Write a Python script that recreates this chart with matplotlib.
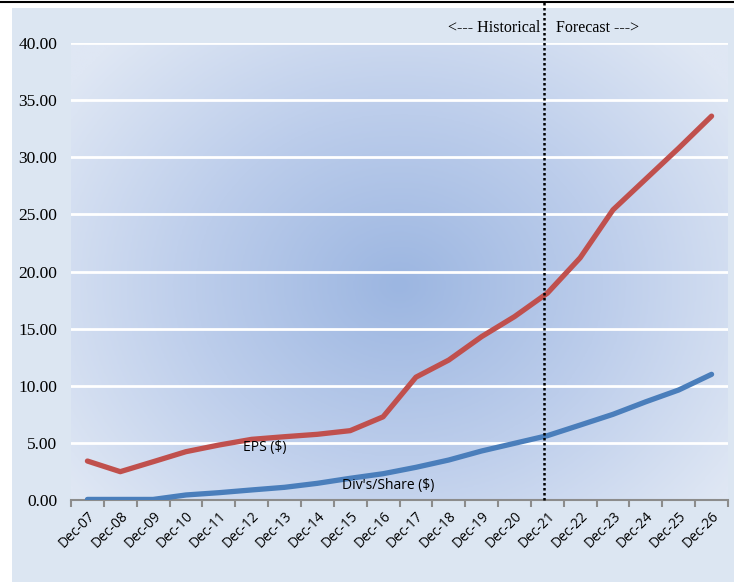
#!/usr/bin/env python

import matplotlib
matplotlib.use('Agg')
import matplotlib.pyplot as plt
from matplotlib.colors import LinearSegmentedColormap
from matplotlib.patches import Rectangle
from matplotlib.lines import Line2D
import numpy as np

# fiscal year ends, Dec-07 .. Dec-26
years = ['Dec-%02d' % y for y in range(7, 27)]
eps = [3.41, 2.48, 3.35, 4.23, 4.81, 5.31, 5.54, 5.75, 6.07, 7.28,
       10.75, 12.25, 14.3, 16.05, 18.1, 21.2, 25.4, 28.1, 30.8, 33.6]
dps = [0.05, 0.05, 0.05, 0.44, 0.64, 0.88, 1.11, 1.46, 1.9, 2.3,
       2.86, 3.5, 4.29, 4.96, 5.63, 6.56, 7.5, 8.6, 9.63, 11.0]
yticks = [0, 5, 10, 15, 20, 25, 30, 35, 40]
split_pos = 13.9   # last historical year / first forecast year

serif = 'Liberation Serif'
sans = 'Open Sans'

def main():
    fig = plt.figure(figsize=(7.34, 5.82), dpi=100)
    fig.patch.set_facecolor('white')
    # light blue chart frame and the rule on top
    fig.patches.append(Rectangle((12/734., 0), 1, 1 - 8/582., transform=fig.transFigure,
                                 facecolor='#dce6f2', edgecolor='none', zorder=-5))
    fig.lines.append(Line2D([0, 1], [1 - 2/582., 1 - 2/582.], transform=fig.transFigure,
                            color='black', lw=1.5, zorder=-4))

    ax = fig.add_axes([71/734., 82/582., 657/734., 457/582.])
    ax.patch.set_alpha(0)
    x = np.arange(len(years))
    ax.set_xlim(-0.5, len(years) - 0.5)
    ax.set_ylim(0, 40)

    # radial fill of the plot area
    gx, gy = np.meshgrid(np.linspace(0, 1, 400), np.linspace(0, 1, 300))
    r = np.sqrt(((gx - 0.50) / 0.62) ** 2 + ((gy - 0.47) / 0.75) ** 2)
    r = np.clip(r, 0, 1)
    cmap = LinearSegmentedColormap.from_list('fill', ['#9cb6e1', '#bccdeb', '#dfe7f4'])
    ax.imshow(r, cmap=cmap, extent=[-0.5, len(years) - 0.5, 40, 0], aspect='auto',
              zorder=0, interpolation='bilinear')
    ax.set_ylim(0, 40)

    for v in yticks[1:]:
        ax.axhline(v, color='white', lw=2, zorder=1)

    ax.plot(x, eps, color='#c0504d', lw=3.8, solid_capstyle='round',
            solid_joinstyle='round', zorder=3)
    ax.plot(x, dps, color='#4a7ebb', lw=3.8, solid_capstyle='round',
            solid_joinstyle='round', zorder=3)

    ax.axvline(split_pos, ymin=0, ymax=500/457., color='black', lw=1.8,
               linestyle=(0, (1, 1)), clip_on=False, zorder=4)
    ax.text(split_pos - 0.12, 41.3, '<--- Historical', ha='right', va='center',
            family=serif, fontsize=11.5)
    ax.text(split_pos + 0.36, 41.3, 'Forecast --->', ha='left', va='center',
            family=serif, fontsize=11.5)

    ax.text(5.4, 4.6, 'EPS ($)', ha='center', va='center', family=sans, fontsize=10)
    ax.text(9.15, 1.3, "Div's/Share ($)", ha='center', va='center', family=sans, fontsize=10)

    for s in ['top', 'right', 'left']:
        ax.spines[s].set_visible(False)
    ax.spines['bottom'].set_color('#8c8c8c')
    ax.spines['bottom'].set_linewidth(1.5)
    ax.spines['bottom'].set_zorder(2)

    ax.set_yticks(yticks)
    ax.set_yticklabels(['%.2f' % v for v in yticks], family=serif, fontsize=12.5)
    ax.tick_params(axis='y', length=0, pad=10)

    ax.set_xticks(np.arange(len(years) + 1) - 0.5)
    ax.set_xticklabels([])
    ax.tick_params(axis='x', which='major', length=5, width=1.5, color='#8c8c8c', direction='out')
    ax.set_xticks(x, minor=True)
    ax.set_xticklabels(years, minor=True, rotation=45, ha='right', rotation_mode='anchor',
                       family=sans, fontsize=10)
    ax.tick_params(axis='x', which='minor', length=0, pad=6)

    fig.savefig('out.png', dpi=100)

if __name__ == "__main__":
    main()
